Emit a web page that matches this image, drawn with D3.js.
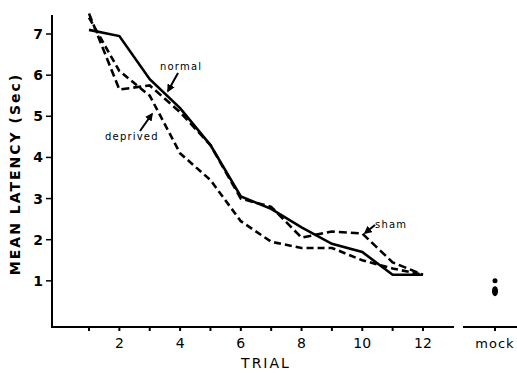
<!DOCTYPE html>
<html>
<head>
<meta charset="utf-8">
<script src="https://cdn.jsdelivr.net/npm/d3@7"></script>
<style>
  body { margin: 0; background: #fff; }
  text { font-family: "DejaVu Sans", sans-serif; fill: #000; }
</style>
</head>
<body>
<div id="chart"></div>
<script>
// values
const trials = [1, 2, 3, 4, 5, 6, 7, 8, 9, 10, 11, 12];
const normal = [7.1, 6.95, 5.9, 5.2, 4.3, 3.05, 2.75, 2.3, 1.9, 1.7, 1.15, 1.15];
const sham = [7.5, 5.65, 5.75, 5.1, 4.3, 3.0, 2.8, 2.05, 2.2, 2.15, 1.45, 1.15];
const deprived = [7.4, 6.1, 5.5, 4.1, 3.45, 2.45, 1.95, 1.8, 1.8, 1.5, 1.3, 1.15];
const mockValues = [1.0, 0.75];
const yTicks = [1, 2, 3, 4, 5, 6, 7];
const xLabels = [2, 4, 6, 8, 10, 12];

const width = 517, height = 373;
const svg = d3.select('#chart').append('svg')
  .attr('width', width)
  .attr('height', height);

const x = d3.scaleLinear().domain([1, 12]).range([89, 423]);
const y = d3.scaleLinear().domain([0, 7]).range([322, 34]);
const xLeft = 52, xRight = 454, yBottom = 327, yTop = 15;
const xMock = 495;

// y axis
svg.append('line')
  .attr('x1', xLeft).attr('x2', xLeft)
  .attr('y1', yTop).attr('y2', yBottom)
  .attr('stroke', '#000').attr('stroke-width', 2);

const yAxis = svg.append('g');
yAxis.selectAll('line').data(yTicks).join('line')
  .attr('x1', xLeft - 6).attr('x2', xLeft)
  .attr('y1', d => y(d)).attr('y2', d => y(d))
  .attr('stroke', '#000').attr('stroke-width', 1.5);
yAxis.selectAll('text').data(yTicks).join('text')
  .attr('x', 38).attr('y', d => y(d) + 5)
  .attr('text-anchor', 'middle')
  .attr('font-size', 14).attr('font-weight', 'bold')
  .text(d => d);

// x axis (main part)
svg.append('line')
  .attr('x1', xLeft - 1).attr('x2', xRight)
  .attr('y1', yBottom).attr('y2', yBottom)
  .attr('stroke', '#000').attr('stroke-width', 2);
svg.append('g').selectAll('line').data(trials).join('line')
  .attr('x1', d => x(d)).attr('x2', d => x(d))
  .attr('y1', yBottom).attr('y2', yBottom + 4)
  .attr('stroke', '#000').attr('stroke-width', 2);
svg.append('g').selectAll('text').data(xLabels).join('text')
  .attr('x', d => x(d)).attr('y', 348)
  .attr('text-anchor', 'middle')
  .attr('font-size', 14)
  .text(d => d);

// x axis (mock part)
svg.append('line')
  .attr('x1', 463).attr('x2', width)
  .attr('y1', yBottom).attr('y2', yBottom)
  .attr('stroke', '#000').attr('stroke-width', 2);
svg.append('line')
  .attr('x1', xMock).attr('x2', xMock)
  .attr('y1', yBottom).attr('y2', yBottom + 4)
  .attr('stroke', '#000').attr('stroke-width', 2);
svg.append('text')
  .attr('x', xMock).attr('y', 348)
  .attr('text-anchor', 'middle')
  .attr('font-size', 13).attr('letter-spacing', 1)
  .text('mock');

// axis titles
svg.append('text')
  .attr('transform', 'translate(20,174) rotate(-90)')
  .attr('text-anchor', 'middle')
  .attr('font-size', 14).attr('font-weight', 'bold')
  .attr('letter-spacing', 2)
  .text('MEAN  LATENCY  (Sec)');
svg.append('text')
  .attr('x', 266).attr('y', 368)
  .attr('text-anchor', 'middle')
  .attr('font-size', 14).attr('letter-spacing', 2)
  .text('TRIAL');

// lines
const line = d3.line()
  .x((d, i) => x(trials[i]))
  .y(d => y(d));

svg.append('path').datum(deprived)
  .attr('d', line).attr('fill', 'none')
  .attr('stroke', '#000').attr('stroke-width', 2.6)
  .attr('stroke-dasharray', '7,4');
svg.append('path').datum(sham)
  .attr('d', line).attr('fill', 'none')
  .attr('stroke', '#000').attr('stroke-width', 2.6)
  .attr('stroke-dasharray', '8,4');
svg.append('path').datum(normal)
  .attr('d', line).attr('fill', 'none')
  .attr('stroke', '#000').attr('stroke-width', 2.6);

// mock points
svg.append('circle')
  .attr('cx', xMock).attr('cy', y(mockValues[0]))
  .attr('r', 2.5).attr('fill', '#000');
svg.append('ellipse')
  .attr('cx', xMock).attr('cy', y(mockValues[1]))
  .attr('rx', 3).attr('ry', 5).attr('fill', '#000');

// annotations
const arrow = svg.append('defs').append('marker')
  .attr('id', 'head').attr('viewBox', '0 0 10 10')
  .attr('refX', 8).attr('refY', 5)
  .attr('markerWidth', 4).attr('markerHeight', 4)
  .attr('orient', 'auto');
arrow.append('path').attr('d', 'M0,0 L10,5 L0,10 z').attr('fill', '#000');

const notes = [
  { text: 'normal', tx: 160, ty: 70, x1: 178, y1: 73, x2: 168, y2: 91 },
  { text: 'deprived', tx: 105, ty: 140, x1: 140, y1: 131, x2: 152, y2: 114 },
  { text: 'sham', tx: 375, ty: 228, x1: 375, y1: 225, x2: 365, y2: 233 }
];
notes.forEach(n => {
  svg.append('text')
    .attr('x', n.tx).attr('y', n.ty)
    .attr('font-size', 10).attr('letter-spacing', 1.2)
    .text(n.text);
  svg.append('line')
    .attr('x1', n.x1).attr('y1', n.y1)
    .attr('x2', n.x2).attr('y2', n.y2)
    .attr('stroke', '#000').attr('stroke-width', 2)
    .attr('marker-end', 'url(#head)');
});
</script>
</body>
</html>
